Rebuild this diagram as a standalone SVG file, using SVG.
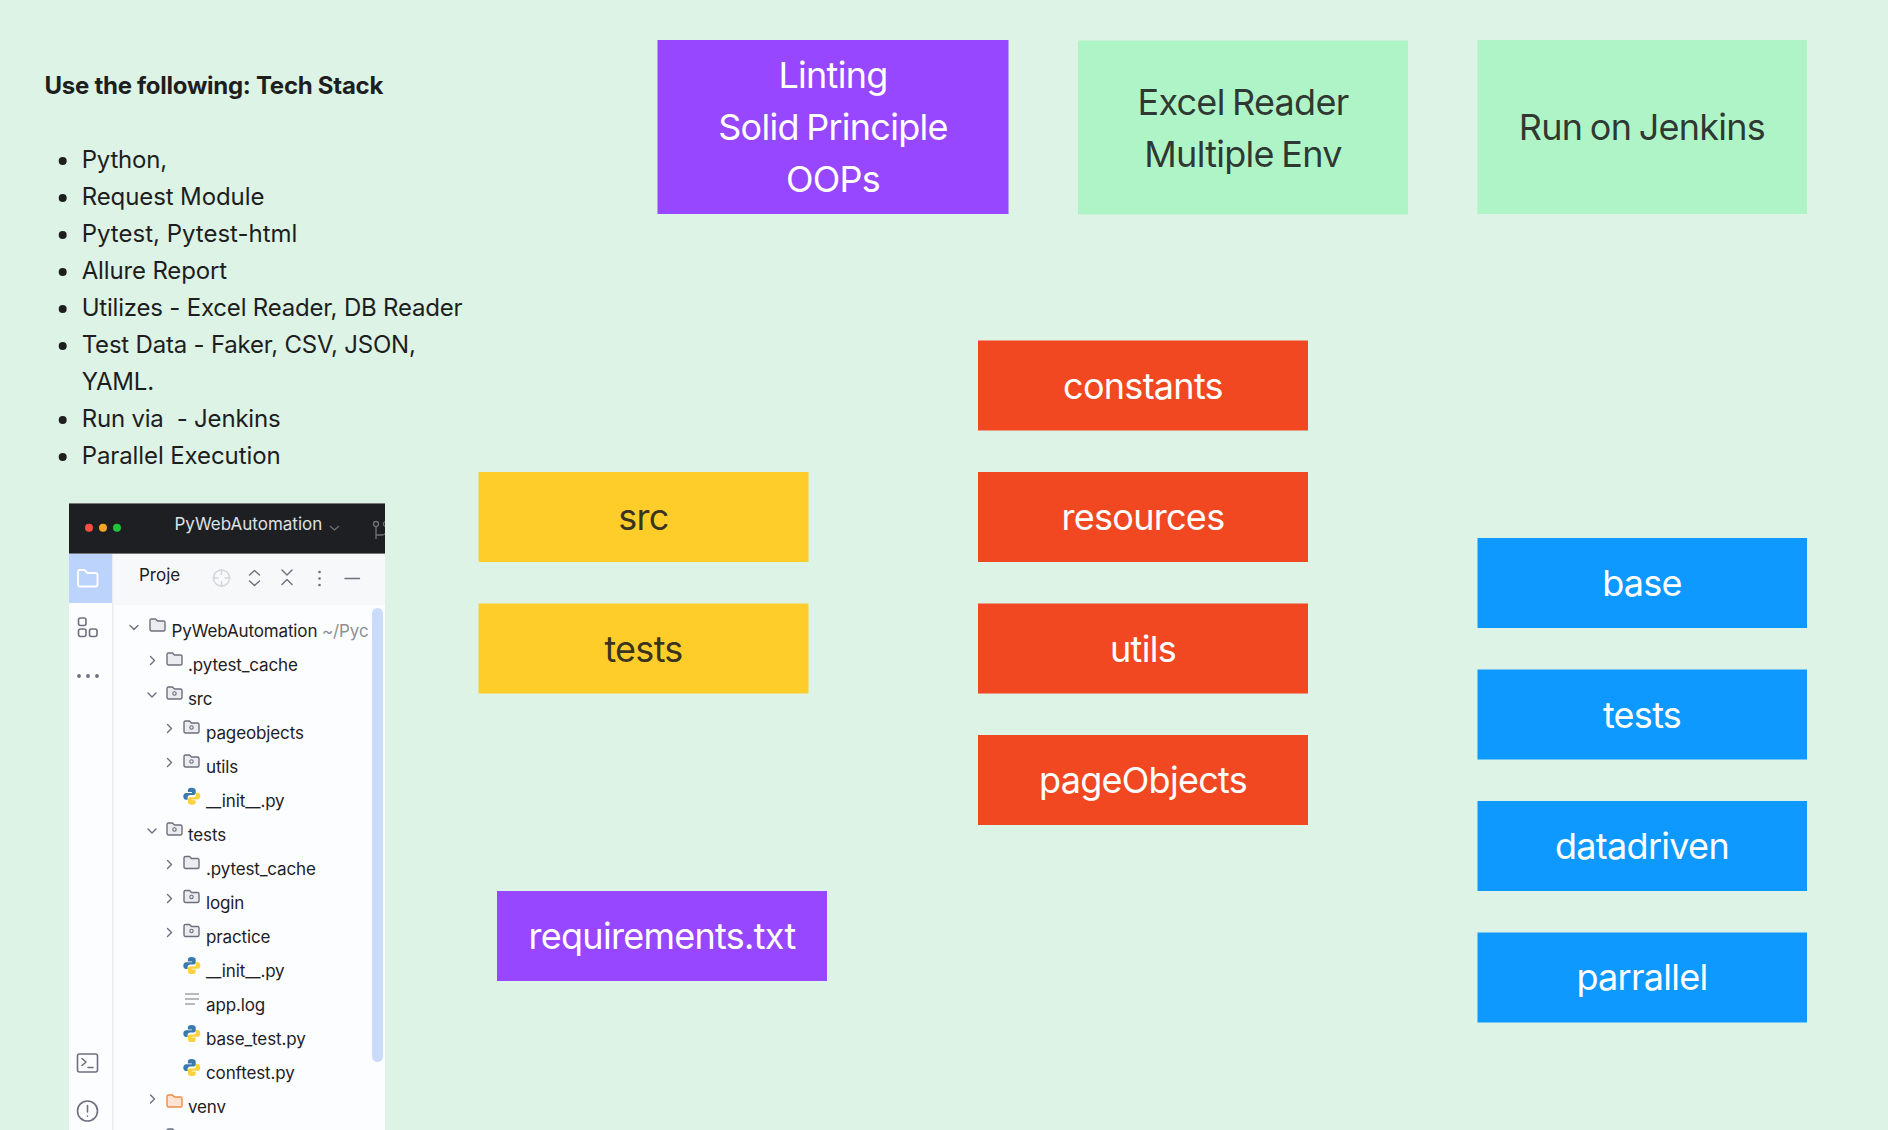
<svg xmlns="http://www.w3.org/2000/svg" xmlns:xlink="http://www.w3.org/1999/xlink" width="1888" height="1130" viewBox="0 0 1888 1130">
<style>
text{font-family:Inter,"Liberation Sans",sans-serif;fill:#1e1e1e}
.b{font-size:36px;text-anchor:middle;letter-spacing:-0.72px;word-spacing:-2px;fill-opacity:.9}
.w{fill:#fff;fill-opacity:1}
.li{font-size:24px;fill:#1e1e1e;letter-spacing:-0.2px}
.t{font-size:17px;fill:#1f2024;letter-spacing:-0.13px}
.purple{fill:#9747ff}.green{fill:#aff4c6}.orange{fill:#f24822}.yellow{fill:#ffcd29}.blue{fill:#0d99ff}
.ch{fill:none;stroke:#6c707e;stroke-width:1.4;stroke-linecap:round;stroke-linejoin:round}
.ic{fill:none;stroke:#6c707e;stroke-width:1.6;stroke-linecap:round;stroke-linejoin:round}
</style>
<defs>
<path id="fp" d="M1 2.5a1.5 1.5 0 0 1 1.5-1.5h4l2 2h6a1.5 1.5 0 0 1 1.5 1.5v7a1.5 1.5 0 0 1-1.5 1.5h-12a1.5 1.5 0 0 1-1.5-1.5z"/>
<g id="folder"><use xlink:href="#fp" fill="#ebecf0" stroke="#6c707e" stroke-width="1.4"/></g>
<g id="mod"><use xlink:href="#folder"/><circle cx="8.5" cy="7.5" r="1.7" fill="none" stroke="#6c707e" stroke-width="1.1"/></g>
<g id="py">
<path fill="#3b79ac" d="M8.4 0C5.4 0 4.6 1 4.6 2.6V4.4H8.6V5.2H3C1 5.2 0 6.500 0 8.600S1 12 2.800 12H4.300V10C4.300 8.400 5.400 7.400 7 7.400H10.400C11.600 7.400 12.400 6.600 12.400 5.400V2.600C12.400 1 10.800 0 8.400 0Z"/>
<path fill="#fbd13d" d="M8.600 17C11.600 17 12.400 16 12.400 14.400V12.600H8.400V11.800H14C16 11.800 17 10.500 17 8.400S16 5 14.200 5H12.700V7C12.700 8.600 11.600 9.600 10 9.600H6.600C5.400 9.600 4.600 10.400 4.600 11.600V14.400C4.600 16 6.200 17 8.600 17Z"/>
</g>
<clipPath id="pc"><rect x="69" y="503" width="316" height="627"/></clipPath>
<clipPath id="tc"><rect x="69" y="605" width="300" height="525"/></clipPath>
</defs>
<rect id="bg" width="1888" height="1130" fill="#ddf3e5"/>

<g id="tech-stack">
<text x="44.500" y="94" style="font-size:24px;font-weight:700;letter-spacing:-0.27px">Use the following: Tech Stack</text>
<g fill="#1e1e1e"><circle cx="62.700" cy="161" r="4"/><circle cx="62.700" cy="198" r="4"/><circle cx="62.700" cy="235" r="4"/><circle cx="62.700" cy="272" r="4"/><circle cx="62.700" cy="309" r="4"/><circle cx="62.700" cy="346" r="4"/><circle cx="62.700" cy="420" r="4"/><circle cx="62.700" cy="457" r="4"/></g>
<text class="li" x="81.700" y="168">Python,</text>
<text class="li" x="81.700" y="205" style="letter-spacing:-0.1px">Request Module</text>
<text class="li" x="81.700" y="242" style="letter-spacing:0">Pytest, Pytest-html</text>
<text class="li" x="81.700" y="279" style="letter-spacing:-0.15px">Allure Report</text>
<text class="li" x="81.700" y="316">Utilizes - Excel Reader, DB Reader</text>
<text class="li" x="81.700" y="353">Test Data - Faker, CSV, JSON,</text>
<text class="li" x="81.700" y="390">YAML.</text>
<text class="li" x="81.700" y="427" xml:space="preserve">Run via  - Jenkins</text>
<text class="li" x="81.700" y="464" style="letter-spacing:-0.1px">Parallel Execution</text>
</g>

<g id="ide-panel" clip-path="url(#pc)">
<rect x="69" y="503" width="316" height="627" fill="#fcfdff"/>
<rect x="69" y="503" width="316" height="51" fill="#1e1f22"/>
<rect x="69" y="503" width="316" height="1" fill="#777"/><rect x="69" y="553" width="316" height="1" fill="#777"/>
<circle cx="89" cy="527.700" r="4" fill="#ff4f44"/><circle cx="103" cy="527.700" r="4" fill="#f5a623"/><circle cx="117" cy="527.700" r="4" fill="#20c437"/>
<text x="174.500" y="530" style="font-size:17px;fill:#dfe1e5">PyWebAutomation</text>
<path d="M330 526l4.500 4 4.500-4" fill="none" stroke="#6f737a" stroke-width="1.200"/>
<g fill="none" stroke="#6f737a" stroke-width="1.300"><circle cx="376" cy="524" r="2.500"/><circle cx="386" cy="524" r="2.500"/><path d="M376 527v12M376 535h6a4 4 0 0 0 4-4v-4"/></g>
<rect x="69" y="554" width="43" height="576" fill="#fcfdff"/>
<rect x="112" y="554" width="1.500" height="576" fill="#ebecf0"/>
<rect x="113.500" y="554" width="272" height="51" fill="#f7f8fa"/>
<rect x="69" y="554" width="43" height="49" fill="#bcd3fb"/>
<path d="M78 571.500a1.500 1.500 0 0 1 1.500-1.500h5l3 3h8a2 2 0 0 1 2 2v9.500a2 2 0 0 1-2 2h-15.500a2 2 0 0 1-2-2z" fill="none" stroke="#fff" stroke-width="1.800"/>
<text x="139" y="581" style="font-size:17px;fill:#1f2024">Proje</text>
<g fill="none" stroke="#d3d5db" stroke-width="1.400"><circle cx="221.500" cy="578" r="8"/><path d="M221.500 569v6M221.500 581v6M212.500 578h6M224.500 578h6"/></g>
<path class="ch" d="M249.500 575l5-4.500 5 4.500M249.500 581l5 4.500 5-4.500M282 570l5 5 5-5M282 584.500l5-5 5 5"/>
<g fill="#6c707e"><circle cx="319.500" cy="572" r="1.300"/><circle cx="319.500" cy="578.500" r="1.300"/><circle cx="319.500" cy="585" r="1.300"/></g>
<path class="ch" d="M345 578.500h14.500"/>
<g class="ic"><rect x="78.500" y="618" width="7.500" height="7.500" rx="2"/><rect x="78.500" y="629" width="7.500" height="7.500" rx="2"/><rect x="89.500" y="629" width="7.500" height="7.500" rx="2"/></g>
<g fill="#6c707e"><circle cx="79" cy="676" r="1.900"/><circle cx="88" cy="676" r="1.900"/><circle cx="97" cy="676" r="1.900"/></g>
<g class="ic"><rect x="77.500" y="1054" width="20" height="18" rx="2"/><path d="M82 1058.500l4 3.500-4 3.500M88 1067.500h5"/></g>
<g class="ic"><circle cx="87.500" cy="1111" r="10"/><path d="M87.500 1105.500v6.500M87.500 1116v.3"/></g>
<rect x="372" y="608" width="11" height="454" rx="5.500" fill="#cadcfa"/>
<g clip-path="url(#tc)">
<path class="ch" d="M130 625.500l4 4 4-4"/><use xlink:href="#folder" x="149" y="618"/>
<text class="t" x="171.500" y="637">PyWebAutomation <tspan style="fill:#8c8f96">~/Pyc</tspan></text>
<path class="ch" d="M150.500 656.500l4 4-4 4"/><use xlink:href="#folder" x="166" y="652"/><text class="t" x="188" y="671">.pytest_cache</text>
<path class="ch" d="M148 693l4 4 4-4"/><use xlink:href="#mod" x="166" y="686"/><text class="t" x="188" y="705">src</text>
<path class="ch" d="M167.500 724.500l4 4-4 4"/><use xlink:href="#mod" x="183" y="720"/><text class="t" x="206" y="739">pageobjects</text>
<path class="ch" d="M167.500 758.500l4 4-4 4"/><use xlink:href="#mod" x="183" y="754"/><text class="t" x="206" y="773">utils</text>
<use xlink:href="#py" x="183.300" y="787.700"/><text class="t" x="206" y="807">__init__.py</text>
<path class="ch" d="M148 829l4 4 4-4"/><use xlink:href="#mod" x="166" y="822"/><text class="t" x="188" y="841">tests</text>
<path class="ch" d="M167.500 860.500l4 4-4 4"/><use xlink:href="#folder" x="183" y="855.500"/><text class="t" x="206" y="875">.pytest_cache</text>
<path class="ch" d="M167.500 894.500l4 4-4 4"/><use xlink:href="#mod" x="183" y="889.500"/><text class="t" x="206" y="909">login</text>
<path class="ch" d="M167.500 928.500l4 4-4 4"/><use xlink:href="#mod" x="183" y="923.500"/><text class="t" x="206" y="943">practice</text>
<use xlink:href="#py" x="183.300" y="957"/><text class="t" x="206" y="977">__init__.py</text>
<path d="M185 994h14M185 999h14M185 1004h10" fill="none" stroke="#a0a3ab" stroke-width="1.300"/><text class="t" x="206" y="1010.500">app.log</text>
<use xlink:href="#py" x="183.300" y="1025"/><text class="t" x="206" y="1044.500">base_test.py</text>
<use xlink:href="#py" x="183.300" y="1059"/><text class="t" x="206" y="1078.500">conftest.py</text>
<path class="ch" d="M150.500 1098l4 4-4 4" transform="translate(0 -3)"/><use xlink:href="#fp" x="166" y="1094" fill="#fde4d2" stroke="#f08b4a" stroke-width="1.400"/><text class="t" x="188" y="1112.500">venv</text>
<use xlink:href="#mod" x="166" y="1128"/>
</g>
</g>

<g id="linting"><rect class="purple" x="657.500" y="40" width="351" height="174"/><text class="b w" x="833" y="88">Linting</text><text class="b w" x="833" y="140">Solid Principle</text><text class="b w" x="833" y="191.500">OOPs</text></g>
<g id="excel-reader"><rect class="green" x="1078" y="40.500" width="330" height="174"/><text class="b" x="1243" y="115">Excel Reader</text><text class="b" x="1243" y="166.500">Multiple Env</text></g>
<g id="run-on-jenkins"><rect class="green" x="1477.500" y="40" width="329.500" height="174"/><text class="b" x="1642" y="140">Run on Jenkins</text></g>
<g id="src"><rect class="yellow" x="478.500" y="472" width="330" height="90"/><text class="b" x="643.500" y="530">src</text></g>
<g id="tests"><rect class="yellow" x="478.500" y="603.500" width="330" height="90"/><text class="b" x="643.500" y="661.500">tests</text></g>
<g id="constants"><rect class="orange" x="978" y="340.500" width="330" height="90"/><text class="b w" x="1143" y="398.500">constants</text></g>
<g id="resources"><rect class="orange" x="978" y="472" width="330" height="90"/><text class="b w" x="1143" y="530">resources</text></g>
<g id="utils"><rect class="orange" x="978" y="603.500" width="330" height="90"/><text class="b w" x="1143" y="661.500">utils</text></g>
<g id="pageobjects"><rect class="orange" x="978" y="735" width="330" height="90"/><text class="b w" x="1143" y="793">pageObjects</text></g>
<g id="requirements"><rect class="purple" x="497" y="891" width="330" height="90"/><text class="b w" x="662" y="949">requirements.txt</text></g>
<g id="base"><rect class="blue" x="1477.500" y="538" width="329.500" height="90"/><text class="b w" x="1642" y="596">base</text></g>
<g id="tests-2"><rect class="blue" x="1477.500" y="669.500" width="329.500" height="90"/><text class="b w" x="1642" y="727.500">tests</text></g>
<g id="datadriven"><rect class="blue" x="1477.500" y="801" width="329.500" height="90"/><text class="b w" x="1642" y="859">datadriven</text></g>
<g id="parrallel"><rect class="blue" x="1477.500" y="932.500" width="329.500" height="90"/><text class="b w" x="1642" y="990">parrallel</text></g>
<g id="connectors"></g>
</svg>
